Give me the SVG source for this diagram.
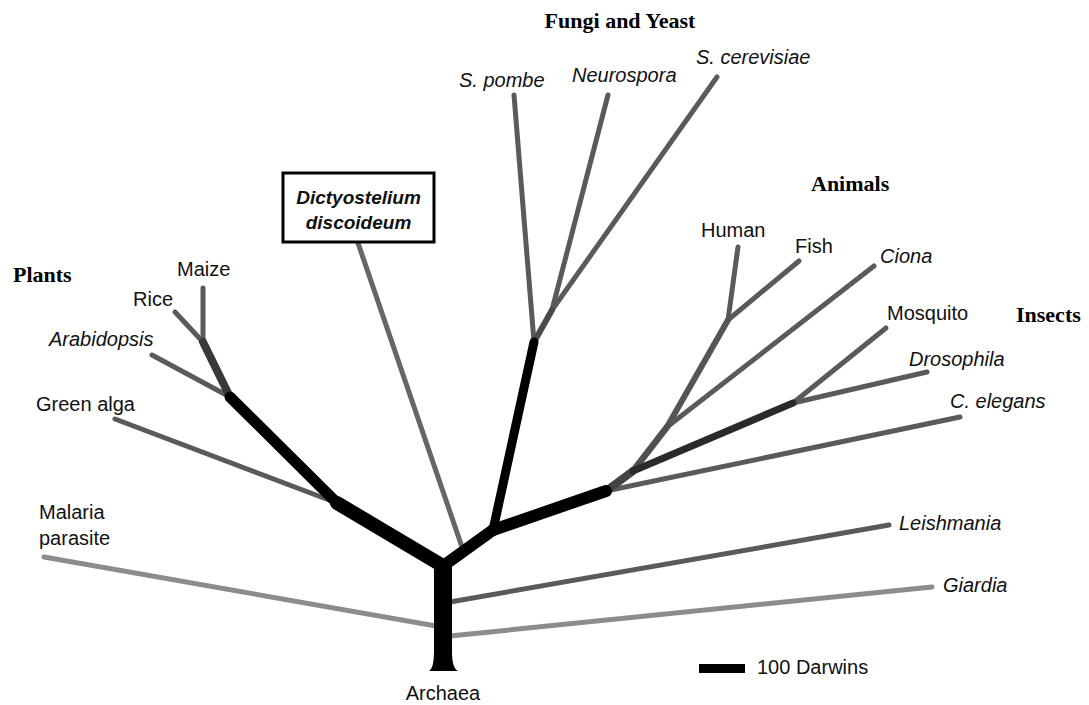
<svg xmlns="http://www.w3.org/2000/svg" width="1089" height="705" viewBox="0 0 1089 705">
<style>
.lbl{font-family:"Liberation Sans",Arial,Helvetica,sans-serif;font-size:20px;fill:#111}
.it{font-style:italic}
.grp{font-family:"Liberation Serif","Times New Roman",serif;font-size:22px;font-weight:bold;fill:#000}
.leaf{stroke:#5a5a5a;stroke-width:5;stroke-linecap:round;fill:none}
.pale{stroke:#8c8c8c;stroke-width:5;stroke-linecap:round;fill:none}
.mid{stroke-linecap:round;fill:none}
.blk{stroke:#000;stroke-linecap:round;stroke-linejoin:round;fill:none}
</style>
<rect width="1089" height="705" fill="#fff"/>

<g id="connectors">
  <line x1="44" y1="557" x2="436" y2="626" class="pale"/>
  <line x1="450" y1="636" x2="932" y2="587" class="pale"/>
  <line x1="450" y1="602" x2="889" y2="525" class="leaf" stroke="#505050"/>
  <line x1="358" y1="243" x2="463" y2="550" class="leaf" style="stroke:#666"/>
  <line x1="115" y1="419" x2="337" y2="503" class="leaf"/>
  <line x1="152" y1="355" x2="230" y2="397" class="leaf"/>
  <line x1="175" y1="312" x2="203" y2="342" class="leaf"/>
  <line x1="203" y1="288" x2="203" y2="342" class="leaf"/>
  <line x1="514" y1="95" x2="534" y2="342" class="leaf"/>
  <line x1="608" y1="95" x2="552" y2="310" class="leaf"/>
  <line x1="717" y1="77" x2="552" y2="310" class="leaf"/>
  <line x1="738" y1="247" x2="728" y2="320" class="leaf"/>
  <line x1="799" y1="261" x2="728" y2="320" class="leaf"/>
  <line x1="874" y1="266" x2="667" y2="427" class="leaf"/>
  <line x1="886" y1="328" x2="793" y2="403" class="leaf"/>
  <line x1="927" y1="372" x2="793" y2="403" class="leaf"/>
  <line x1="960" y1="417" x2="606" y2="491" class="leaf"/>
  <line x1="667" y1="427" x2="728" y2="320" class="mid" stroke="#555" stroke-width="6"/>
  <line x1="633" y1="471" x2="667" y2="427" class="mid" stroke="#505050" stroke-width="6.5"/>
  <line x1="606" y1="491" x2="633" y2="471" class="mid" stroke="#444" stroke-width="8"/>
  <line x1="633" y1="471" x2="793" y2="403" class="mid" stroke="#2a2a2a" stroke-width="7"/>
  <line x1="534" y1="342" x2="552" y2="310" class="mid" stroke="#4a4a4a" stroke-width="6"/>
  <line x1="203" y1="342" x2="230" y2="397" class="mid" stroke="#383838" stroke-width="8"/>
  <line x1="230" y1="397" x2="337" y2="503" class="blk" stroke-width="11"/>
  <line x1="337" y1="503" x2="443" y2="566" class="blk" stroke-width="14"/>
  <line x1="443" y1="566" x2="493" y2="530" class="blk" stroke-width="12"/>
  <line x1="493" y1="530" x2="606" y2="491" class="blk" stroke-width="12"/>
  <line x1="493" y1="530" x2="534" y2="342" class="blk" stroke-width="9"/>
  <path d="M434,564 L452,564 L452,652 Q452,668 458,671 L429,671 Q434,668 434,652 Z" fill="#000"/>
</g>

<g id="group-fungi"><text class="grp" x="620" y="28" text-anchor="middle">Fungi and Yeast</text></g>
<g id="group-animals"><text class="grp" x="811" y="191">Animals</text></g>
<g id="group-insects"><text class="grp" x="1016" y="322">Insects</text></g>
<g id="group-plants"><text class="grp" x="13" y="282">Plants</text></g>

<g id="node-spombe"><text class="lbl it" x="459" y="87">S. pombe</text></g>
<g id="node-neurospora"><text class="lbl it" x="572" y="82">Neurospora</text></g>
<g id="node-scerevisiae"><text class="lbl it" x="696" y="64">S. cerevisiae</text></g>
<g id="node-human"><text class="lbl" x="701" y="237">Human</text></g>
<g id="node-fish"><text class="lbl" x="795" y="253">Fish</text></g>
<g id="node-ciona"><text class="lbl it" x="880" y="263">Ciona</text></g>
<g id="node-mosquito"><text class="lbl" x="887" y="320">Mosquito</text></g>
<g id="node-drosophila"><text class="lbl it" x="909" y="366">Drosophila</text></g>
<g id="node-celegans"><text class="lbl it" x="950" y="408">C. elegans</text></g>
<g id="node-leishmania"><text class="lbl it" x="899" y="530">Leishmania</text></g>
<g id="node-giardia"><text class="lbl it" x="943" y="592">Giardia</text></g>
<g id="node-malaria"><text class="lbl" x="39" y="519">Malaria</text><text class="lbl" x="39" y="545">parasite</text></g>
<g id="node-greenalga"><text class="lbl" x="36" y="411">Green alga</text></g>
<g id="node-arabidopsis"><text class="lbl it" x="49" y="346">Arabidopsis</text></g>
<g id="node-rice"><text class="lbl" x="133" y="306">Rice</text></g>
<g id="node-maize"><text class="lbl" x="177" y="276">Maize</text></g>
<g id="node-archaea"><text class="lbl" x="443" y="700" text-anchor="middle">Archaea</text></g>

<g id="node-dictyostelium">
  <rect x="283" y="173" width="151" height="69" fill="#fff" stroke="#000" stroke-width="3"/>
  <text class="lbl it" x="358.5" y="204" text-anchor="middle" font-weight="bold" style="font-size:19px">Dictyostelium</text>
  <text class="lbl it" x="358.5" y="229" text-anchor="middle" font-weight="bold" style="font-size:19px">discoideum</text>
</g>

<g id="scale-bar">
  <rect x="699" y="664" width="46" height="9" fill="#000"/>
  <text class="lbl" x="757" y="674">100 Darwins</text>
</g>
</svg>
